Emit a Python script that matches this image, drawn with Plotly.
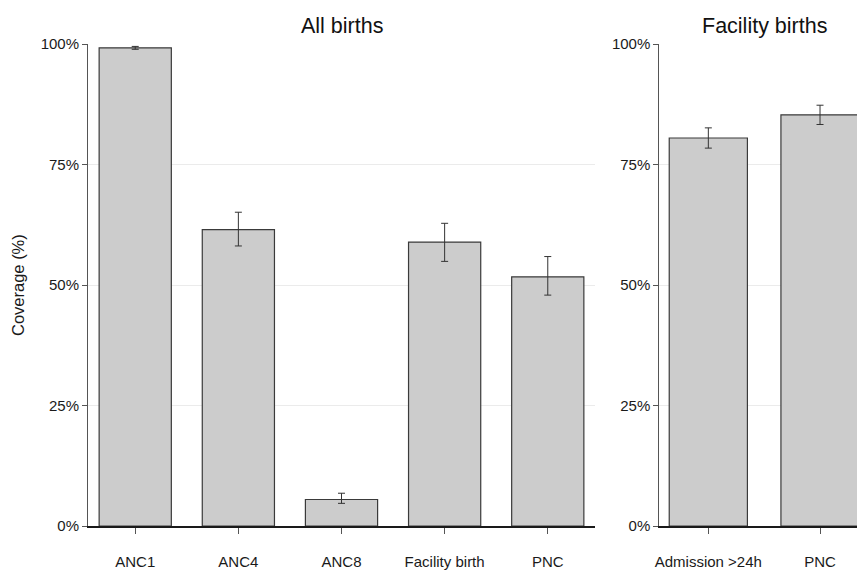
import plotly.graph_objects as go

# ---- data ----
all_cats = ["ANC1", "ANC4", "ANC8", "Facility birth", "PNC"]
all_vals = [0.992, 0.615, 0.055, 0.589, 0.517]
all_lo = [0.989, 0.581, 0.047, 0.549, 0.479]
all_hi = [0.995, 0.651, 0.068, 0.628, 0.559]

fac_cats = ["Admission >24h", "PNC"]
fac_vals = [0.805, 0.853]
fac_lo = [0.784, 0.833]
fac_hi = [0.826, 0.873]

y_ticks = [0, 0.25, 0.5, 0.75, 1.0]
panel_titles = ["All births", "Facility births"]
y_title = "Coverage (%)"

FONT = "Liberation Sans, Arial, sans-serif"
BAR_FILL = "#cccccc"
BAR_LINE = "#3a3a3a"


def bar_trace(cats, vals, lo, hi, xa, ya):
    idx = list(range(len(cats)))
    return go.Bar(
        x=idx, y=vals, xaxis=xa, yaxis=ya, width=0.7,
        marker=dict(color=BAR_FILL, line=dict(color=BAR_LINE, width=1.2)),
        error_y=dict(type="data", symmetric=False,
                     array=[h - v for h, v in zip(hi, vals)],
                     arrayminus=[v - l for v, l in zip(vals, lo)],
                     color="#333333", thickness=1, width=3.5),
        showlegend=False, hoverinfo="skip",
    )


fig = go.Figure()
fig.add_trace(bar_trace(all_cats, all_vals, all_lo, all_hi, "x", "y"))
fig.add_trace(bar_trace(fac_cats, fac_vals, fac_lo, fac_hi, "x2", "y2"))

xcommon = dict(showgrid=False, zeroline=False, showline=True, linecolor="#1a1a1a",
               linewidth=2, ticks="outside", ticklen=6, tickcolor="#555555",
               tickwidth=1, tickfont=dict(family=FONT, size=15, color="#1a1a1a"),
               ticklabelstandoff=15, fixedrange=True, automargin=False)
ycommon = dict(range=[0, 1], tickvals=y_ticks, tickformat=".0%", showgrid=True,
               gridcolor="#ebebeb", gridwidth=1, zeroline=False, showline=True,
               linecolor="#555555", linewidth=1, ticks="outside", ticklen=5,
               tickcolor="#555555", tickfont=dict(family=FONT, size=15, color="#1a1a1a"),
               fixedrange=True, automargin=False)

fig.update_layout(
    width=857, height=570,
    margin=dict(l=88, r=0, t=44, b=44, autoexpand=False),
    paper_bgcolor="white", plot_bgcolor="white",
    font=dict(family=FONT, color="#1a1a1a"),
    bargap=0.3,
    xaxis=dict(domain=[0, 0.6593], range=[-0.458, 4.458],
               tickvals=list(range(len(all_cats))), ticktext=all_cats, **xcommon),
    xaxis2=dict(domain=[0.7429, 1], range=[-0.439, 1.331], anchor="y2",
                tickvals=list(range(len(fac_cats))), ticktext=fac_cats, **xcommon),
    yaxis=dict(anchor="x", **ycommon),
    yaxis2=dict(anchor="x2", **ycommon),
)

fig.add_annotation(text=panel_titles[0], xref="paper", yref="paper",
                   x=(341.5 - 88) / 769, y=1 + (44 - 26) / 482,
                   xanchor="center", yanchor="middle", showarrow=False,
                   font=dict(family=FONT, size=21.5, color="#111111"))
fig.add_annotation(text=panel_titles[1], xref="paper", yref="paper",
                   x=(764.5 - 88) / 769, y=1 + (44 - 26) / 482,
                   xanchor="center", yanchor="middle", showarrow=False,
                   font=dict(family=FONT, size=21.5, color="#111111"))
fig.add_annotation(text=y_title, xref="paper", yref="paper",
                   x=(18 - 88) / 769, y=0.5, textangle=-90,
                   xanchor="center", yanchor="middle", showarrow=False,
                   font=dict(family=FONT, size=16.5, color="#1a1a1a"))

fig.write_html("out.html", config={"displayModeBar": False},
               post_script="document.body.style.margin='0';document.body.style.overflow='hidden';")
